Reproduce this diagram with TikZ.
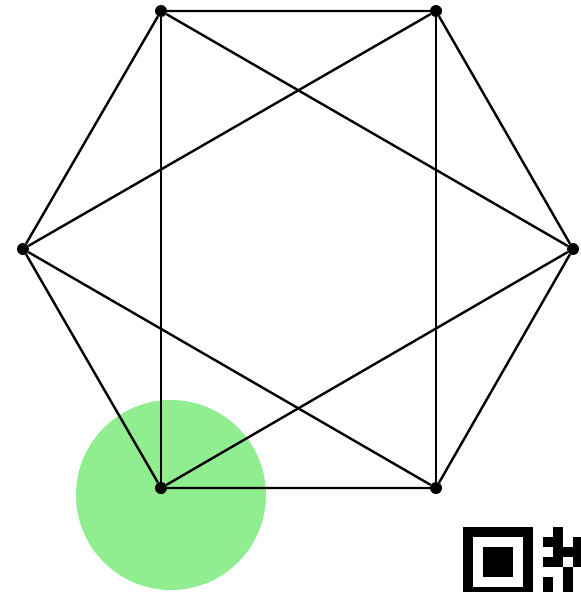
\documentclass[tikz,border=0pt]{standalone}
\definecolor{lgreen}{HTML}{90EE90}
\tikzset{
  vtx/.style={circle,fill=black,inner sep=0pt,minimum size=12pt},
  edge/.style={line width=2.4pt,black},
  mod/.style={fill=black}
}
\begin{document}
\begin{tikzpicture}[x=1pt,y=-1pt]
\useasboundingbox (0,0) rectangle (581,592);
\clip (0,0) rectangle (581,592);
\fill[lgreen] (171,495) circle (95);
\node[vtx] (a) at (161,11) {};
\node[vtx] (b) at (436,11) {};
\node[vtx] (c) at (573,249) {};
\node[vtx] (d) at (436,488) {};
\node[vtx] (e) at (161,488) {};
\node[vtx] (f) at (23,249) {};
\draw[edge] (a) -- (b) -- (c) -- (d) -- (e) -- (f) -- (a);
\draw[edge] (a) -- (e);
\draw[edge] (b) -- (d);
\draw[edge] (a) -- (c);
\draw[edge] (b) -- (f);
\draw[edge] (f) -- (d);
\draw[edge] (c) -- (e);
% QR fragment
\fill[black] (463,527) rectangle (533,597);
\fill[white] (473,537) rectangle (523,587);
\fill[black] (483,547) rectangle (513,577);
\foreach \c/\r in {9/0, 8/1, 9/1, 11/1, 9/2, 10/2, 11/2, 8/3, 9/3, 11/3, 10/4, 8/5, 10/5, 8/6, 10/6}{
  \fill[mod] ({463+10*\c},{527+10*\r}) rectangle ++(10,10);
}
\end{tikzpicture}
\end{document}
